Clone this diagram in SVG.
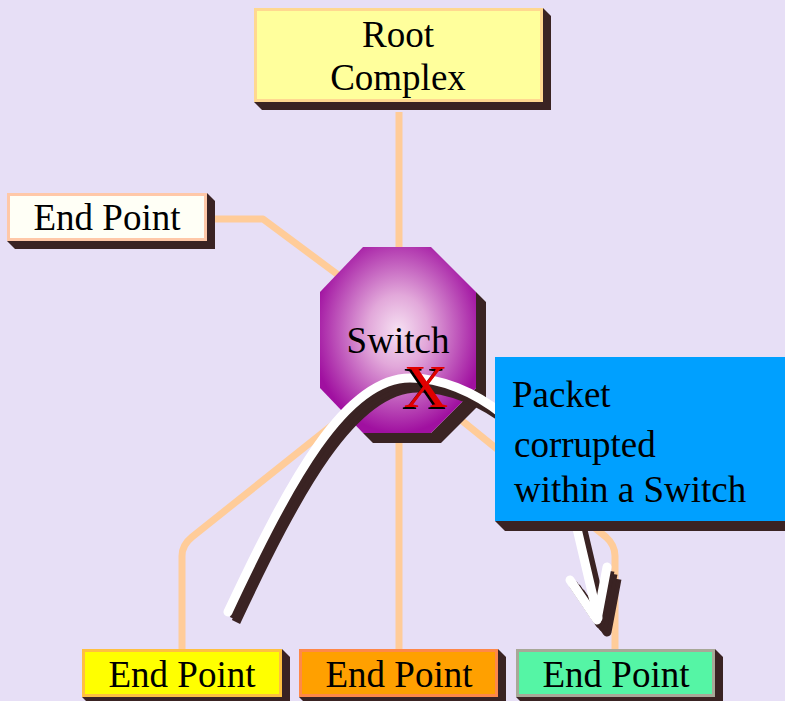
<svg xmlns="http://www.w3.org/2000/svg" width="785" height="701" viewBox="0 0 785 701">
  <defs>
    <radialGradient id="switchFill" cx="0.5" cy="0.45" r="0.55">
      <stop offset="0" stop-color="#F6E0F2"/>
      <stop offset="0.35" stop-color="#E2A8DA"/>
      <stop offset="1" stop-color="#A010A0"/>
    </radialGradient>
    <filter id="hardShadow" x="-20%" y="-20%" width="140%" height="140%">
      <feDropShadow dx="-2" dy="2" stdDeviation="0" flood-color="#000000" flood-opacity="1"/>
    </filter>
    <path id="flowPath" d="M228,612 C290,480 345,378 410,378 C470,378 545,430 575,520 L598,618"/>
    <path id="arrowHead" d="M570,580 L597,620 L607,567"/>
  </defs>
  <style>
    .wire { fill: none; stroke: #FFCC99; stroke-width: 7; stroke-linejoin: round; }
    .shadow { fill: #3A2323; }
    .label { font-family: "Liberation Serif", "Times New Roman", serif; font-size: 37px; fill: #000; }
    .mid { text-anchor: middle; }
    .box { stroke-width: 3; }
    .flowDark { fill: none; stroke: #3A2323; stroke-width: 9; stroke-linecap: butt; stroke-linejoin: round; }
    .flowLight { fill: none; stroke: #FFFFFF; stroke-width: 9; stroke-linecap: round; stroke-linejoin: round; }
  </style>

  <rect width="785" height="701" fill="#E7DFF6"/>

  <!-- links between the switch and its neighbours -->
  <g id="connectors">
    <path class="wire" d="M399,112 L399,250"/>
    <path class="wire" d="M208,219 L263,219 L345,280"/>
    <path class="wire" d="M345,415 L192,537 Q182,545 182,556 L182,651"/>
    <path class="wire" d="M399,430 L399,651"/>
    <path class="wire" d="M455,415 L606,537 Q615,545 615,556 L615,651"/>
  </g>

  <g id="root-complex">
    <polygon class="shadow" points="543,8 551,16 551,110 262,110 254,102"/>
    <rect class="box" x="255.5" y="9.5" width="286" height="91" fill="#FFFF9C" stroke="#FFD890"/>
    <text class="label mid" x="398" y="47">Root</text>
    <text class="label mid" x="398" y="90">Complex</text>
  </g>

  <g id="end-point-left">
    <polygon class="shadow" points="207,193 215,201 215,249 15,249 7,241"/>
    <rect class="box" x="8.5" y="194.5" width="197" height="45" fill="#FFFFF6" stroke="#FFC8A8"/>
    <text class="label mid" x="107" y="230">End Point</text>
  </g>

  <g id="switch">
    <polygon class="shadow" points="476,292 486,302 486,398 441,443 373,443 363,433 431,433 476,388"/>
    <polygon points="363,247 431,247 476,292 476,388 431,433 363,433 320,388 320,292" fill="url(#switchFill)"/>
    <text class="label mid" x="398" y="353">Switch</text>
  </g>

  <g id="end-point-yellow">
    <polygon class="shadow" points="282,649 290,657 290,705 90,705 82,697"/>
    <rect class="box" x="83.5" y="650.5" width="197" height="45" fill="#FFFF00" stroke="#FFC040"/>
    <text class="label mid" x="182" y="687">End Point</text>
  </g>

  <g id="end-point-orange">
    <polygon class="shadow" points="498,649 506,657 506,705 307,705 299,697"/>
    <rect class="box" x="300.5" y="650.5" width="196" height="45" fill="#FFA000" stroke="#FF8848"/>
    <text class="label mid" x="399" y="687">End Point</text>
  </g>

  <g id="end-point-green">
    <polygon class="shadow" points="715,649 723,657 723,705 524,705 516,697"/>
    <rect class="box" x="517.5" y="650.5" width="196" height="45" fill="#55F5A5" stroke="#A8A898"/>
    <text class="label mid" x="616" y="687">End Point</text>
  </g>

  <!-- packet route, drawn as a raised ribbon -->
  <g id="packet-route">
    <use href="#flowPath" class="flowDark" transform="translate(8,10)"/>
    <use href="#flowPath" class="flowDark" transform="translate(6,7)"/>
    <use href="#flowPath" class="flowDark" transform="translate(3,4)"/>
    <use href="#arrowHead" class="flowDark" transform="translate(10,12)"/>
    <use href="#arrowHead" class="flowDark" transform="translate(6,7)"/>
    <use href="#arrowHead" class="flowDark" transform="translate(3,4)"/>
    <use href="#flowPath" class="flowLight"/>
    <use href="#arrowHead" class="flowLight"/>
  </g>

  <g id="error-mark">
    <text x="426" y="407" font-family="Liberation Serif, serif" font-size="62" text-anchor="middle" fill="#E00000" filter="url(#hardShadow)">X</text>
  </g>

  <g id="note">
    <polygon class="shadow" points="495,521 505,531 795,531 795,521"/>
    <rect x="495" y="357" width="300" height="164" fill="#00A0FF"/>
    <text class="label" x="512" y="407">Packet</text>
    <text class="label" x="514" y="457">corrupted</text>
    <text class="label" x="514" y="502">within a Switch</text>
  </g>
</svg>
